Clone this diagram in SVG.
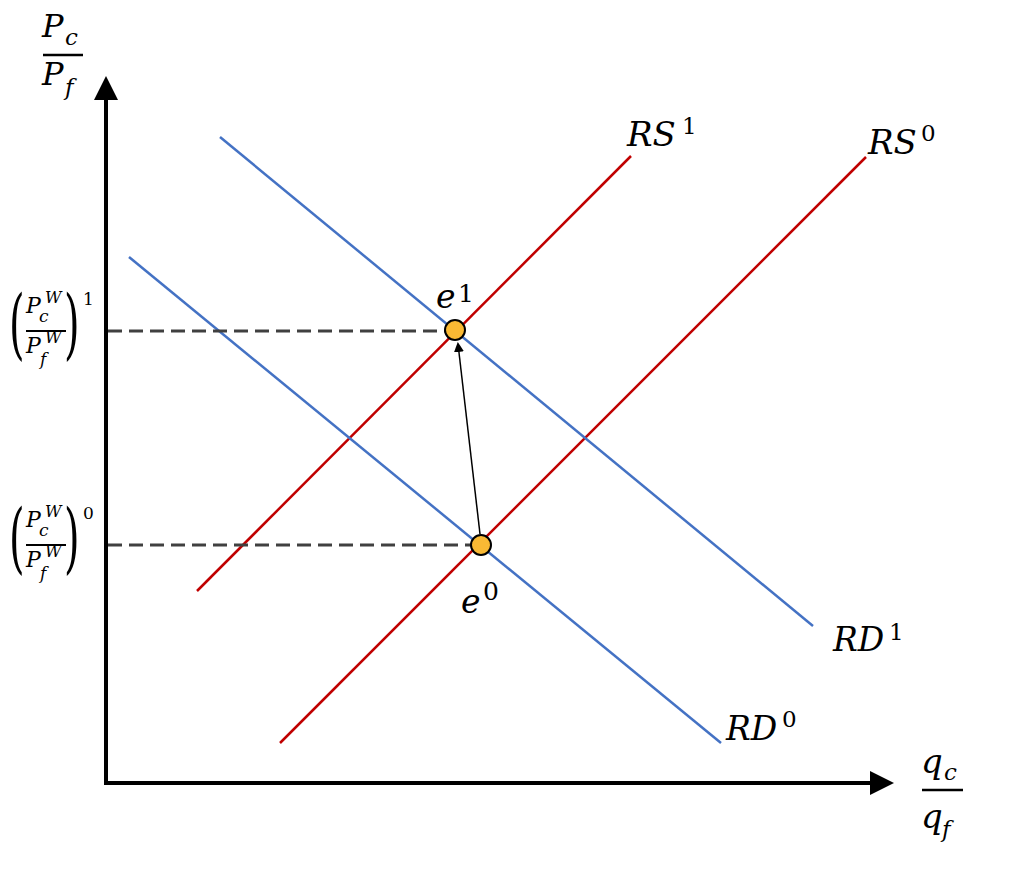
<svg xmlns="http://www.w3.org/2000/svg" width="1018" height="882" viewBox="0 0 1018 882">
<defs>
<style>
.m{font-family:"DejaVu Serif","Liberation Serif",serif;font-style:italic;fill:#000}
.u{font-family:"DejaVu Serif","Liberation Serif",serif;font-style:normal;fill:#000}
.ax{stroke:#000;stroke-width:4;fill:none}
.rs{stroke:#C00000;stroke-width:2.5;fill:none}
.rd{stroke:#4472C4;stroke-width:2.5;fill:none}
.dash{stroke:#404040;stroke-width:3;stroke-dasharray:14 7;fill:none}
.pt{fill:#F9B934;stroke:#000;stroke-width:2}
.fr{stroke:#000;stroke-width:2.5}
</style>
<marker id="axh" markerWidth="6" markerHeight="6" refX="1" refY="3" orient="auto" markerUnits="strokeWidth"><path d="M0,0 L6,3 L0,6 z" fill="#000"/></marker>
<marker id="sh" markerWidth="10" markerHeight="10" refX="8" refY="5" orient="auto" markerUnits="userSpaceOnUse"><path d="M0,0 L10,5 L0,10 z" fill="#000"/></marker>
</defs>
<g id="axes">
<line class="ax" x1="106" y1="785" x2="106" y2="96" marker-end="url(#axh)"/>
<line class="ax" x1="104" y1="783" x2="874" y2="783" marker-end="url(#axh)"/>
</g>
<g id="connectors">
<line class="rs" x1="197" y1="591" x2="631" y2="156"/>
<line class="rs" x1="280" y1="743" x2="866" y2="157"/>
<line class="rd" x1="220" y1="137" x2="813" y2="626"/>
<line class="rd" x1="129" y1="257" x2="721" y2="743"/>
<line class="dash" x1="108" y1="331" x2="445" y2="331"/>
<line class="dash" x1="108" y1="545" x2="471" y2="545"/>
<line x1="480" y1="534" x2="458" y2="344" stroke="#000" stroke-width="1.5" marker-end="url(#sh)"/>
</g>
<g id="e1"><circle class="pt" cx="455" cy="330" r="10"/><text class="m" x="436" y="308" font-size="33">e</text><text class="u" x="458" y="302" font-size="25">1</text></g>
<g id="e0"><circle class="pt" cx="481" cy="545" r="10"/><text class="m" x="461" y="613" font-size="33">e</text><text class="u" x="483" y="600" font-size="25">0</text></g>
<g id="RS1"><text class="m" x="627" y="146" font-size="34">RS</text><text class="u" x="682" y="134" font-size="23">1</text></g>
<g id="RS0"><text class="m" x="868" y="154" font-size="34">RS</text><text class="u" x="921" y="141" font-size="23">0</text></g>
<g id="RD1"><text class="m" x="833" y="651" font-size="33">RD</text><text class="u" x="889" y="640" font-size="23">1</text></g>
<g id="RD0"><text class="m" x="726" y="740" font-size="33">RD</text><text class="u" x="782" y="727" font-size="23">0</text></g>
<g id="ylabel">
<text class="m" x="42" y="37" font-size="32">P</text><text class="m" x="65" y="45" font-size="23">c</text>
<line class="fr" x1="43" y1="55" x2="83" y2="55"/>
<text class="m" x="42" y="85" font-size="32">P</text><text class="m" x="65" y="95" font-size="23">f</text>
</g>
<g id="xlabel">
<text class="m" x="921" y="773" font-size="34">q</text><text class="m" x="944" y="780" font-size="23">c</text>
<line class="fr" x1="922" y1="790" x2="963" y2="790"/>
<text class="m" x="921" y="828" font-size="34">q</text><text class="m" x="942" y="837" font-size="23">f</text>
</g>
<g id="p1">
<text class="u" font-size="40" transform="translate(9,350) scale(1,1.9)">(</text>
<text class="m" x="26" y="313" font-size="22">P</text><text class="m" x="45" y="303" font-size="16">W</text><text class="m" x="39" y="322" font-size="17">c</text>
<line x1="26" y1="331" x2="66" y2="331" stroke="#000" stroke-width="2"/>
<text class="m" x="26" y="353" font-size="22">P</text><text class="m" x="45" y="343" font-size="16">W</text><text class="m" x="40" y="365" font-size="17">f</text>
<text class="u" font-size="40" transform="translate(64,350) scale(1,1.9)">)</text>
<text class="u" x="83" y="305" font-size="17">1</text>
</g>
<g id="p0">
<text class="u" font-size="40" transform="translate(9,564) scale(1,1.9)">(</text>
<text class="m" x="26" y="527" font-size="22">P</text><text class="m" x="45" y="517" font-size="16">W</text><text class="m" x="39" y="536" font-size="17">c</text>
<line x1="26" y1="545" x2="66" y2="545" stroke="#000" stroke-width="2"/>
<text class="m" x="26" y="567" font-size="22">P</text><text class="m" x="45" y="557" font-size="16">W</text><text class="m" x="40" y="579" font-size="17">f</text>
<text class="u" font-size="40" transform="translate(64,564) scale(1,1.9)">)</text>
<text class="u" x="83" y="519" font-size="17">0</text>
</g>
</svg>
